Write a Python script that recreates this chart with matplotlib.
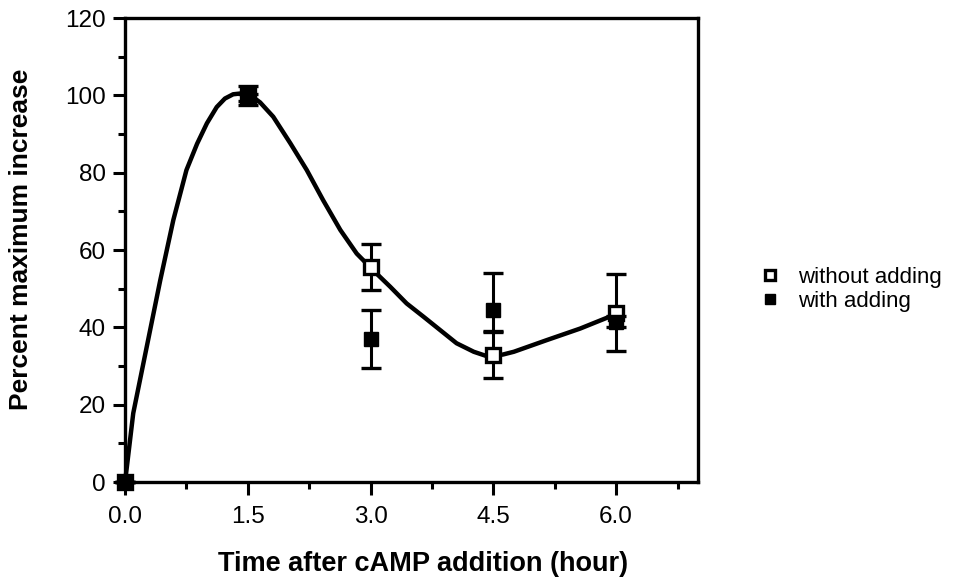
import matplotlib
matplotlib.use('Agg')
import matplotlib.pyplot as plt
from matplotlib.ticker import MultipleLocator

plt.rcParams['font.family'] = ['Liberation Sans', 'DejaVu Sans']

# measured points (hours, percent of maximum increase)
time = [0.0, 1.5, 3.0, 4.5, 6.0]
without_adding = [0.0, 100.0, 55.7, 32.8, 43.8]
without_err = [0.0, 2.5, 6.0, 6.0, 10.0]
with_adding = [0.0, 99.5, 37.0, 44.5, 41.5]
with_err_low = [0.0, 1.0, 7.5, 5.5, 1.5]
with_err_high = [0.0, 1.0, 7.5, 9.5, 1.5]

# smooth curve drawn through the "without adding" data
curve_x = [0.0, 0.10, 0.265, 0.43, 0.59, 0.75, 0.88, 1.0, 1.12, 1.22, 1.32,
           1.45, 1.53, 1.65, 1.81, 2.02, 2.22, 2.42, 2.63, 2.83, 3.03, 3.24,
           3.44, 3.65, 3.85, 4.05, 4.26, 4.40, 4.5, 4.62, 4.75, 5.15, 5.56,
           5.97, 6.0]
curve_y = [0.0, 17.8, 35.0, 52.2, 67.8, 80.7, 87.5, 92.8, 97.0, 99.2, 100.3,
           100.6, 100.1, 98.2, 94.5, 87.6, 80.7, 72.9, 65.2, 59.1, 54.8, 50.5,
           46.2, 42.7, 39.3, 35.9, 33.7, 32.7, 32.6, 33.0, 33.7, 36.7, 39.7,
           43.2, 43.5]

fig = plt.figure(figsize=(9.62, 5.85), dpi=100)
ax = fig.add_axes([0.130, 0.176, 0.5956, 0.793])

ax.plot(curve_x, curve_y, color='black', lw=3.2, zorder=2, clip_on=False,
        solid_joinstyle='round')

ax.errorbar(time, with_adding, yerr=[with_err_low, with_err_high], fmt='none',
            ecolor='black', elinewidth=2.2, capsize=7, capthick=2.4, zorder=3,
            clip_on=False)
ax.errorbar(time, without_adding, yerr=without_err, fmt='none', ecolor='black',
            elinewidth=2.2, capsize=7, capthick=2.4, zorder=3, clip_on=False)

ax.plot(time, without_adding, 's', ms=9.5, mfc='white', mec='black', mew=2.4,
        label='without adding', zorder=4, clip_on=False)
ax.plot(time, with_adding, 's', ms=9.5, mfc='black', mec='black',
        label='with adding', zorder=5, clip_on=False)

ax.set_xlim(0, 7)
ax.set_ylim(0, 120)
ax.set_xticks([0.0, 1.5, 3.0, 4.5, 6.0])
ax.set_xticklabels(['0.0', '1.5', '3.0', '4.5', '6.0'])
ax.xaxis.set_minor_locator(MultipleLocator(0.75))
ax.yaxis.set_major_locator(MultipleLocator(20))
ax.yaxis.set_minor_locator(MultipleLocator(10))
ax.tick_params(which='major', direction='out', length=9, width=2.2,
               labelsize=17.5, pad=5)
ax.tick_params(axis='x', which='major', pad=8)
ax.tick_params(which='minor', direction='out', length=5, width=2.2)
for s in ax.spines.values():
    s.set_linewidth(2.4)

ax.set_xlabel('Time after cAMP addition (hour)', fontsize=19.5,
              fontweight='bold')
ax.xaxis.set_label_coords(0.52, -0.148)
ax.set_ylabel('Percent maximum increase', fontsize=19,
              fontweight='bold')
ax.yaxis.set_label_coords(-0.16, 0.524)

h, l = ax.get_legend_handles_labels()
fig.legend(h, l, loc='center left',
           bbox_to_anchor=(0.795, 0.505), frameon=False, fontsize=16,
           handlelength=0.5, handletextpad=1.0, labelspacing=0.15,
           markerscale=0.8, borderpad=0, borderaxespad=0)

fig.savefig('out.png', dpi=100)
